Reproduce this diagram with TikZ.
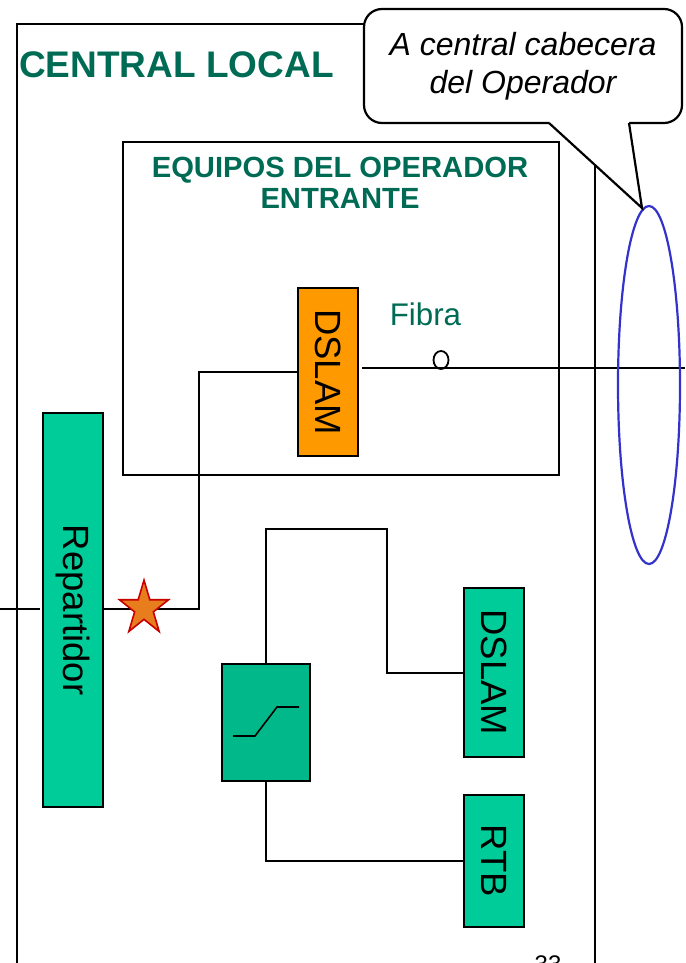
\documentclass[tikz,border=0pt]{standalone}
\usepackage{fontspec}
\setmainfont{Liberation Sans}
\usetikzlibrary{shapes.geometric}
\definecolor{DarkGreen}{HTML}{006B54}
\definecolor{BoxGreen}{HTML}{00CC99}
\definecolor{FilterGreen}{HTML}{00B88A}
\definecolor{DslamOrange}{HTML}{FF9900}
\definecolor{StarOrange}{HTML}{E87D1E}
\definecolor{StarRed}{HTML}{C80000}
\definecolor{LoopBlue}{HTML}{3333CC}

\begin{document}
\begin{tikzpicture}[
  x=1pt, y=-1pt, line width=1.6pt,
  frame/.style={draw, inner sep=0pt},
  equipo/.style={draw, rotate=-90, inner sep=0pt, font=\fontsize{36.5}{37}\selectfont},
  titulo/.style={align=center, font=\fontsize{29.2}{31}\selectfont\bfseries, text=DarkGreen}
]
  \useasboundingbox (0,0) rectangle (685,963);

  %% Central local frame (runs off the page at the bottom)
  \coordinate (marcoA) at (17,990);
  \coordinate (marcoB) at (595,24);
  \draw (marcoA) |- (marcoB) -- (marcoB |- marcoA);
  \node[titulo, font=\fontsize{37}{37}\selectfont\bfseries] (central) at (176.5,65) {CENTRAL LOCAL};

  %% Incoming operator box
  \node[frame, minimum width=436pt, minimum height=333pt] (entrante) at (341,308.5) {};
  \node[titulo] (equipos) at (340,183) {EQUIPOS DEL OPERADOR\\ENTRANTE};

  %% Equipment boxes
  \node[equipo, fill=DslamOrange, minimum width=168pt, minimum height=60pt] (dslamop) at (328,372) {DSLAM};
  \node[equipo, fill=BoxGreen, minimum width=394pt, minimum height=60pt] (repartidor) at (73,610) {Repartidor};
  \node[equipo, fill=BoxGreen, minimum width=169pt, minimum height=60pt] (dslam) at (494,672.5) {DSLAM};
  \node[equipo, fill=BoxGreen, minimum width=132pt, minimum height=60pt] (rtb) at (494,861) {RTB};
  \node[frame, fill=FilterGreen, minimum width=88pt, minimum height=117pt] (filtro) at (266,722.5) {};
  \draw (233,736) -- (255,736) -- (277,707) -- (299,707);

  %% Connections
  \coordinate (entrada) at (0,609);
  \coordinate (cruce) at (199,609);
  \coordinate (arriba) at (266,529);
  \coordinate (bajada) at (387,529);
  \draw (entrada) -- (40,609);
  \draw (repartidor.north |- cruce) -- (cruce) |- (dslamop.south |- 0,372);
  \draw (filtro.north) -- (arriba) -- (bajada) |- (dslam.south |- 0,673);
  \draw (filtro.south) |- (rtb.south |- 0,861);

  %% Fibre out to the head-end
  \coordinate (fibraA) at (362,368);
  \coordinate (fibraB) at (685,368);
  \draw (fibraA) -- (fibraB);
  \node[draw, ellipse, line width=1.8pt, minimum width=15pt, minimum height=18pt, inner sep=0pt] (anillo) at (441,360) {};
  \node[text=DarkGreen, font=\fontsize{31.3}{31}\selectfont] (fibra) at (425.5,314) {Fibra};
  \node[draw=LoopBlue, ellipse, line width=2.2pt, minimum width=62pt, minimum height=358pt, inner sep=0pt] (haz) at (649,385) {};

  \node[star, star points=5, star point ratio=2.618, draw=StarRed, fill=StarOrange,
        minimum size=51.6pt, inner sep=0pt, transform shape, yscale=1.1] (estrella) at (144,608.5) {};

  %% Callout to the head-end
  \node[draw, fill=white, line width=2.2pt, rounded corners=18pt, minimum width=318pt, minimum height=114pt,
        align=center, font=\fontsize{32}{38}\selectfont\itshape] (cabecera) at (523,66) {A central cabecera\\del Operador};
  \coordinate (colaA) at (549,123);
  \coordinate (colaB) at (629,123);
  \coordinate (punta) at (642,208);
  \fill[white] (punta) -- (colaA) -- ++(0,-3) -| (colaB) -- cycle;
  \draw[line width=2.2pt] (colaA) -- (punta) -- (colaB);

  \node[font=\fontsize{24}{24}\selectfont] (pagina) at (548,964) {33};
\end{tikzpicture}
\end{document}
